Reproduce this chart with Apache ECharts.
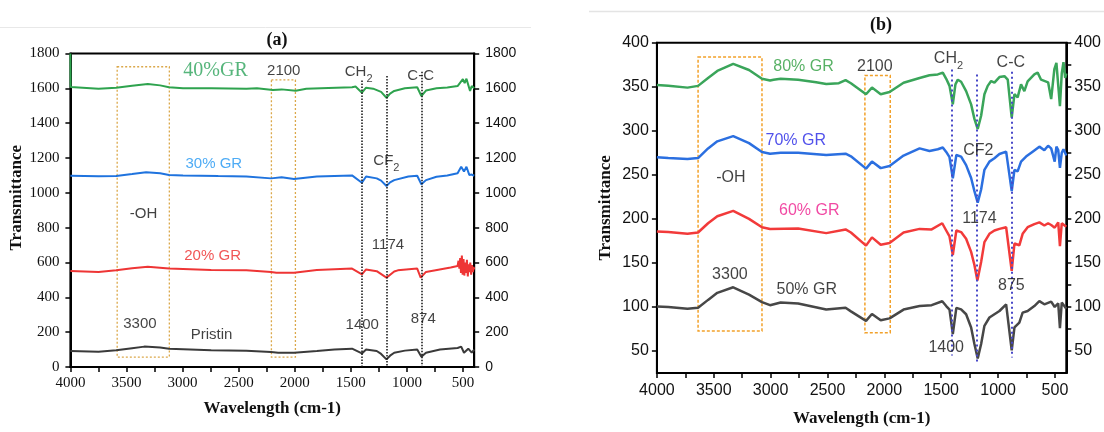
<!DOCTYPE html>
<html><head><meta charset="utf-8">
<script src="https://cdn.jsdelivr.net/npm/echarts@6/dist/echarts.min.js"></script>
<style>html,body{margin:0;padding:0;background:#fff}#c{width:1104px;height:432px}</style>
</head><body><div id="c"></div>
<script>
// ---------- axis ticks / labels ----------
const xLabelValues = [4000,3500,3000,2500,2000,1500,1000,500];
const xTickValues = [4000,3750,3500,3250,3000,2750,2500,2250,2000,1750,1500,1250,1000,750,500];
const yLabelsA = [0,200,400,600,800,1000,1200,1400,1600,1800];
const yLabelsB = [50,100,150,200,250,300,350,400];
const yMinorB = [75,125,175,225,275,325,375];

// ---------- panel (a) spectra: [wavenumber, transmittance] ----------
const pristine = [[4000,92],[3749,88],[3592,96],[3450,108],[3341,117],[3200,112],[3121,105],[2745,96],[2431,94],[2211,86],[2148,82],[2007,82],[1803,92],[1646,100],[1489,105],[1401,78],[1364,100],[1269,92],[1230,75],[1182,44],[1150,65],[1113,82],[1018,94],[908,100],[871,59],[830,82],[705,100],[548,109],[516,117],[491,82],[453,105],[422,82],[400,100]];
const gr20 = [[4000,551],[3749,546],[3592,555],[3450,567],[3310,576],[3121,565],[2745,557],[2431,555],[2211,546],[2164,541],[2007,541],[1803,557],[1489,565],[1401,532],[1364,560],[1269,550],[1182,513],[1113,548],[1081,555],[908,565],[877,513],[830,546],[610,571],[548,580],[540,610],[532,565],[525,625],[518,540],[510,640],[503,530],[495,620],[488,525],[480,600],[472,540],[465,615],[457,520],[450,590],[442,545],[435,600],[427,530],[420,585],[412,545],[405,575],[400,560]];
const gr30 = [[4000,1098],[3749,1095],[3592,1097],[3450,1108],[3325,1118],[3200,1112],[3121,1103],[2996,1099],[2682,1096],[2431,1094],[2211,1083],[2117,1089],[2007,1079],[1803,1094],[1489,1100],[1401,1058],[1364,1094],[1269,1083],[1230,1070],[1182,1039],[1150,1060],[1113,1073],[987,1094],[908,1098],[871,1049],[830,1073],[736,1092],[640,1100],[548,1113],[516,1150],[491,1122],[469,1150],[444,1103],[422,1105],[400,1098]];
const gr40 = [[4000,1800],[3998,1608],[3749,1598],[3592,1604],[3450,1615],[3310,1625],[3200,1617],[3121,1606],[2996,1600],[2745,1601],[2431,1598],[2337,1600],[2195,1590],[2117,1594],[1991,1586],[1897,1598],[1700,1602],[1489,1606],[1458,1610],[1401,1575],[1364,1604],[1301,1598],[1230,1580],[1182,1546],[1150,1570],[1113,1585],[1018,1600],[908,1606],[871,1556],[830,1587],[736,1600],[640,1605],[548,1613],[501,1653],[485,1630],[469,1655],[453,1620],[437,1585],[422,1613],[400,1600]];

// ---------- panel (b) spectra ----------
const gr50 = [[4000,100.6],[3900,100],[3731,98],[3638,99],[3550,108],[3469,116],[3329,122.3],[3190,114],[3076,105.5],[3005,102],[2912,105],[2758,104],[2511,97],[2341,99],[2294,95],[2161,84.2],[2109,92],[2032,84.8],[1954,87],[1831,97],[1690,101],[1584,102],[1491,106.5],[1456,101],[1427,97],[1398,69.3],[1367,99],[1325,97.3],[1281,91.7],[1237,76.7],[1208,58],[1179,41.4],[1149,58],[1120,78.6],[1076,88],[1032,91.7],[988,95.4],[929,103],[880,50.7],[856,76.7],[813,82.3],[784,93.5],[740,95.4],[681,101],[637,106.6],[593,103],[533,106],[502,100],[471,104],[456,76],[440,105],[400,98]];
const gr60 = [[4000,185.7],[3900,185],[3731,183],[3638,184.5],[3550,195],[3469,203],[3329,209],[3190,200],[3076,190.5],[3005,188.5],[2758,189],[2511,183.8],[2341,188],[2294,184.5],[2161,169.6],[2109,179],[2032,170.7],[1954,172.5],[1831,184.5],[1690,188.6],[1584,188],[1491,195],[1456,186.8],[1427,180],[1398,158.8],[1367,186.8],[1325,185],[1281,177.4],[1237,162.5],[1208,147.6],[1182,130],[1149,151],[1120,173.6],[1076,183],[1032,186.8],[988,188.6],[929,190.5],[880,141],[856,172],[813,170],[784,183],[740,190.5],[681,194],[637,196],[593,192.4],[560,195],[533,193],[502,190],[471,196],[456,169],[440,195],[400,191]];
const gr70 = [[4000,270],[3900,269],[3731,268],[3638,269],[3550,280],[3469,288],[3329,294],[3190,286],[3076,276],[3005,274],[2912,275],[2758,275],[2511,272.5],[2341,274],[2294,271],[2161,257],[2109,265],[2032,257.6],[1954,260],[1831,271.8],[1690,280],[1603,277],[1530,279],[1486,281],[1456,276],[1427,270],[1398,246],[1367,272.5],[1325,270.7],[1281,261],[1237,246.4],[1208,231.5],[1179,218.5],[1149,233.3],[1120,255.7],[1076,265],[1032,268.8],[988,273.6],[929,276.3],[880,231.5],[856,255.7],[828,254],[798,265],[754,270.7],[696,276.3],[637,282],[593,278],[560,283],[533,280],[502,265],[487,282],[471,278],[456,258],[440,275],[425,279],[400,272]];
const gr80 = [[4000,352],[3900,351],[3731,349],[3638,351],[3550,360],[3469,368],[3329,376],[3190,369],[3076,359],[3005,357],[2974,358],[2912,359],[2758,358],[2600,355],[2511,353],[2400,354],[2341,357.5],[2294,354],[2161,341.5],[2109,349],[2032,341.5],[1954,344],[1831,354.5],[1690,360],[1603,363],[1530,364],[1486,366],[1456,359],[1427,351],[1398,330],[1375,352.7],[1354,358],[1325,355.7],[1281,345],[1237,330],[1208,313.5],[1179,302],[1149,317],[1120,341.5],[1091,351],[1061,356.4],[1032,354.6],[988,361],[944,362],[915,358],[880,315],[856,341.5],[828,338],[798,352.7],[769,345],[740,356],[681,364],[652,366],[622,358],[610,360],[560,355],[533,336],[505,370],[487,377],[470,350],[456,328],[440,365],[425,378],[410,360],[400,365]];

// ---------- annotations (data coordinates) ----------
const textsA = [['40%GR',2706,1700],['2100',2098,1701],['CH_2',1430,1682],['C-C',877,1671],['30% GR',2721,1166],['CF_2',1183,1171],['-OH',3348,878],['20% GR',2732,637],['1174',1169,700],['3300',3380,247],['Pristin',2741,184],['1400',1398,241],['874',854,276]];
const textsB = [['80% GR',2711,373],['2100',2084,373],['CH_2',1436,378.7],['C-C',888,377],['70% GR',2779,289],['CF2',1173,278],['-OH',3350,246.4],['60% GR',2660,209.5],['1174',1164,199.8],['3300',3358,137],['50% GR',2682,120],['875',883,124],['1400',1456,54.4]];
const peakLinesA = [[1401,1645,0],[1182,1671,0],[871,1695,0]];
const peakLinesB = [[1403,369.5,45],[1185,364,36],[882,367,42.7]];
const boxesA = [[3583,3118,57,1724],[2208,1994,57,1648]];
const boxesB = [[3638,3076,72.7,383.7],[2171,1948,70.8,362.8]];

// ---------- styles ----------
const SERIF = '"Liberation Serif","Times New Roman",serif';
const SANS = '"Liberation Sans",Arial,sans-serif';
const textColor = {'40%GR':'#2ca25a','30% GR':'#2196f3','20% GR':'#ee2a2a','80% GR':'#2e9e3e','70% GR':'#2626e6','60% GR':'#ee1b8c'};

function labelSeries(list, idx, fs, fontFor) {
  return {
    type:'scatter', xAxisIndex:idx, yAxisIndex:idx*2, symbolSize:0, silent:true, z:10,
    data: list.map(a => {
      const col = textColor[a[0]] || '#111';
      const fam = fontFor(a[0]);
      const size = a[0] === '40%GR' ? 20 : fs;
      const m = a[0].match(/^(.*)_(\d)$/);
      const fmt = m ? '{m|' + m[1] + '}{s|' + m[2] + '}' : a[0];
      return {value:[a[1], a[2]], label:{show:true, position:'inside', formatter: fmt, color: col, fontFamily: fam, fontSize: size,
        rich:{m:{fontSize:size, fontFamily:fam, color:col, verticalAlign:'top', padding:[0,0,5,0]}, s:{fontSize:Math.round(size*0.7), fontFamily:fam, color:col, verticalAlign:'bottom'}}}};
    }),
    markLine:{symbol:'none', silent:true, label:{show:false}, animation:false,
      lineStyle: idx === 0 ? {type:'dotted', color:'#111', width:1.5} : {type:[2,3], color:'#4848c8', width:2},
      data: (idx === 0 ? peakLinesA : peakLinesB).map(p => [{coord:[p[0], p[1]]}, {coord:[p[0], p[2]]}])},
    markArea:{silent:true, label:{show:false},
      itemStyle: idx === 0 ? {color:'rgba(0,0,0,0)', borderColor:'#dba84a', borderWidth:1.3, borderType:[2,2]} : {color:'rgba(0,0,0,0)', borderColor:'#f2a12a', borderWidth:1.5, borderType:[3,2]},
      data: (idx === 0 ? boxesA : boxesB).map(b => [{coord:[b[0], b[3]]}, {coord:[b[1], b[2]]}])}
  };
}

function lineSeries(data, idx, color, w) {
  return {type:'line', xAxisIndex:idx, yAxisIndex:idx*2, data: data, showSymbol:false, symbol:'none', silent:true,
    lineStyle:{color: color, width: w}, itemStyle:{color: color}, animation:false, z:3};
}

function xAxisCfg(idx, font, fs, margin, gap) {
  return {gridIndex:idx, type:'value', inverse:true, min:400, max:4000,
    splitLine:{show:false},
    axisLine:{show:true, onZero:false, lineStyle:{color:'#000', width:2}},
    axisTick:{show:true, customValues:xTickValues, length:5, lineStyle:{color:'#000', width:1.5}},
    axisLabel:{customValues:xLabelValues, fontFamily:font, fontSize:fs, color:'#111', margin:margin, formatter:v=>String(v)},
    name:'Wavelength (cm-1)', nameLocation:'middle', nameGap:gap,
    nameTextStyle:{fontFamily:SERIF, fontWeight:'bold', fontSize:17, color:'#111'}};
}

function yAxisCfg(idx, pos, min, max, labels, ticks, font, fs, margin, named, namePad, gap) {
  const c = {gridIndex:idx, type:'value', position:pos, min:min, max:max,
    splitLine:{show:false},
    axisLine:{show:true, onZero:false, lineStyle:{color:'#000', width:2}},
    axisTick:{show:true, customValues:ticks, length:5, lineStyle:{color:'#000', width:1.5}},
    axisLabel:{customValues:labels, fontFamily:font, fontSize:fs, color:'#111', margin:margin, formatter:v=>String(v)}};
  if (named) {
    c.name = 'Transmittance'; c.nameLocation = 'middle'; c.nameGap = gap;
    c.nameTextStyle = {fontFamily:SERIF, fontWeight:'bold', fontSize:17, color:'#111', padding:namePad};
  }
  return c;
}

const chart = echarts.init(document.getElementById('c'), null, {renderer:'canvas'});
chart.setOption({
  backgroundColor:'#fff',
  animation:false,
  grid:[
    {left:70.4, top:53.5, width:403.8, height:313.5, show:true, borderColor:'#000', borderWidth:2, backgroundColor:'rgba(0,0,0,0)'},
    {left:656.9, top:42.7, width:410.1, height:336.6, show:true, borderColor:'#000', borderWidth:2, backgroundColor:'rgba(0,0,0,0)'}
  ],
  xAxis:[ xAxisCfg(0, SERIF, 15, 9, 33), xAxisCfg(1, SANS, 16, 10, 37) ],
  yAxis:[
    yAxisCfg(0, 'left', 0, 1800, yLabelsA, yLabelsA, SERIF, 15, 11, true, [0,0,0,25], 44),
    yAxisCfg(0, 'right', 0, 1800, yLabelsA, yLabelsA, SANS, 14, 11, false),
    yAxisCfg(1, 'left', 25, 400, yLabelsB, yLabelsB, SANS, 16, 8, true, [0,0,0,0], 43),
    yAxisCfg(1, 'right', 25, 400, yLabelsB, yLabelsB.concat(yMinorB), SANS, 16, 8, false)
  ],
  graphic:[
    {type:'line', shape:{x1:0, y1:27.5, x2:531, y2:27.5}, style:{stroke:'#e8e8e8', lineWidth:1}, silent:true},
    {type:'line', shape:{x1:589, y1:11.5, x2:1104, y2:11.5}, style:{stroke:'#e4e4e4', lineWidth:1.5}, silent:true},
    {type:'text', x:277, y:40, style:{text:'(a)', font:'bold 18px ' + SERIF, fill:'#111', align:'center', verticalAlign:'middle'}},
    {type:'text', x:881, y:25, style:{text:'(b)', font:'bold 18px ' + SERIF, fill:'#111', align:'center', verticalAlign:'middle'}}
  ],
  series:[
    lineSeries(pristine, 0, '#3a3a3a', 2),
    lineSeries(gr20, 0, '#ee3535', 2),
    lineSeries(gr30, 0, '#1f73de', 2),
    lineSeries(gr40, 0, '#2ea34e', 2),
    lineSeries(gr50, 1, '#474747', 2.5),
    lineSeries(gr60, 1, '#f23a3a', 2.5),
    lineSeries(gr70, 1, '#2b6fe0', 2.5),
    lineSeries(gr80, 1, '#3aa55a', 2.5),
    labelSeries(textsA, 0, 15, t => t === '40%GR' ? SERIF : SANS),
    labelSeries(textsB, 1, 16, t => SANS)
  ]
});
</script>
</body></html>
